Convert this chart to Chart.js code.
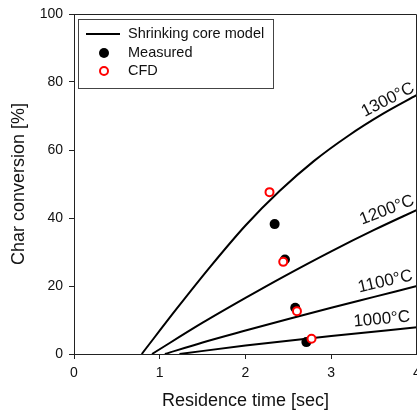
<!DOCTYPE html>
<html>
<head>
<meta charset="utf-8">
<script src="https://cdn.jsdelivr.net/npm/chart.js@4"></script>
<style>
  body { margin: 0; background: #fff; }
  canvas { display: block; }
</style>
</head>
<body>
<canvas id="myChart" width="417" height="412"></canvas>
<script>
// shrinking core model curves
const time1300 = [0.79, 1.2, 1.6, 2.0, 2.4, 2.8, 3.2, 3.6, 4.0];
const conv1300 = [0, 13.4, 26, 37.8, 48, 56.8, 64.2, 70.6, 76.2];
const time1200 = [0.91, 1.5, 2.0, 2.44, 3.0, 3.5, 4.0];
const conv1200 = [0, 9.2, 16.5, 22.7, 30.2, 36.5, 42.4];
const time1100 = [1.06, 1.5, 2.0, 2.5, 3.0, 3.5, 4.0];
const conv1100 = [0, 3.4, 6.9, 10.3, 13.6, 16.8, 20.0];
const time1000 = [1.23, 2.0, 3.0, 4.0];
const conv1000 = [0, 2.5, 5.3, 7.85];

const measuredTime = [2.34, 2.46, 2.58, 2.71];
const measuredConv = [38.2, 27.8, 13.6, 3.5];
const cfdTime = [2.28, 2.44, 2.60, 2.77];
const cfdConv = [47.6, 27.1, 12.6, 4.5];

const tempLabels = ['1300°C', '1200°C', '1100°C', '1000°C'];
const xTicks = [0, 1, 2, 3, 4];
const yTicks = [0, 20, 40, 60, 80, 100];

// where the temperature labels sit (data units) and their tilt
const labelSpots = [
  { x: 3.66, y: 74.7, angle: -27 },
  { x: 3.65, y: 42.3, angle: -21 },
  { x: 3.63, y: 21.3, angle: -13 },
  { x: 3.59, y: 10.2, angle: -5 }
];

const FONT = '"Liberation Sans", Arial, sans-serif';

function toPoints(xs, ys) {
  return xs.map((v, i) => ({ x: v, y: ys[i] }));
}

function curve(xs, ys) {
  return {
    label: 'Shrinking core model',
    data: toPoints(xs, ys),
    showLine: true,
    borderColor: '#000',
    borderWidth: 2,
    pointRadius: 0,
    cubicInterpolationMode: 'monotone',
    fill: false
  };
}

const extras = {
  id: 'extras',
  afterDraw(chart) {
    const { ctx, chartArea: a, scales: { x, y } } = chart;
    ctx.save();

    // box frame top and right
    ctx.strokeStyle = '#222';
    ctx.lineWidth = 1;
    ctx.beginPath();
    ctx.moveTo(a.left, a.top + 0.5);
    ctx.lineTo(a.right - 0.5, a.top + 0.5);
    ctx.lineTo(a.right - 0.5, a.bottom);
    ctx.stroke();

    // temperature labels
    ctx.fillStyle = '#111';
    ctx.font = '17px ' + FONT;
    ctx.textAlign = 'center';
    ctx.textBaseline = 'middle';
    tempLabels.forEach((t, i) => {
      const s = labelSpots[i];
      ctx.save();
      ctx.translate(x.getPixelForValue(s.x), y.getPixelForValue(s.y));
      ctx.rotate(s.angle * Math.PI / 180);
      ctx.fillText(t, 0, 0);
      ctx.restore();
    });

    // legend
    ctx.strokeStyle = '#444';
    ctx.lineWidth = 1;
    ctx.strokeRect(78.5, 19.5, 195, 69);
    ctx.font = '14.5px ' + FONT;
    ctx.textAlign = 'left';
    ctx.fillStyle = '#111';

    ctx.strokeStyle = '#000';
    ctx.lineWidth = 2;
    ctx.beginPath();
    ctx.moveTo(86, 34);
    ctx.lineTo(120, 34);
    ctx.stroke();
    ctx.fillText('Shrinking core model', 128, 34);

    ctx.fillStyle = '#000';
    ctx.beginPath();
    ctx.arc(104, 53, 5, 0, Math.PI * 2);
    ctx.fill();
    ctx.fillStyle = '#111';
    ctx.fillText('Measured', 128, 53);

    ctx.strokeStyle = '#ff0000';
    ctx.beginPath();
    ctx.arc(104, 71, 4, 0, Math.PI * 2);
    ctx.stroke();
    ctx.fillText('CFD', 128, 71);

    ctx.restore();
  }
};

const ctx = document.getElementById('myChart');

const myChart = new Chart(ctx, {
  type: 'scatter',
  data: {
    datasets: [
      {
        label: 'CFD',
        data: toPoints(cfdTime, cfdConv),
        pointRadius: 4,
        pointBackgroundColor: '#fff',
        pointBorderColor: '#ff0000',
        pointBorderWidth: 2
      },
      {
        label: 'Measured',
        data: toPoints(measuredTime, measuredConv),
        pointRadius: 5,
        pointBackgroundColor: '#000',
        pointBorderColor: '#000',
        pointBorderWidth: 0
      },
      curve(time1300, conv1300),
      curve(time1200, conv1200),
      curve(time1100, conv1100),
      curve(time1000, conv1000)
    ]
  },
  options: {
    responsive: false,
    animation: false,
    devicePixelRatio: 1,
    layout: { autoPadding: false, padding: { top: 14, right: 0, bottom: 0, left: 0 } },
    plugins: {
      legend: { display: false },
      tooltip: { enabled: false }
    },
    scales: {
      x: {
        type: 'linear',
        min: xTicks[0],
        max: xTicks[xTicks.length - 1],
        afterBuildTicks: s => { s.ticks = xTicks.map(v => ({ value: v })); },
        afterFit: s => { s.height = 58; s.paddingLeft = 0; s.paddingRight = 0; },
        ticks: { color: '#111', padding: 6, font: { family: FONT, size: 14 } },
        grid: { drawOnChartArea: false, color: '#222', tickLength: 5 },
        border: { color: '#222', width: 1 },
        title: {
          display: true,
          text: 'Residence time [sec]',
          color: '#111',
          padding: { top: 0, bottom: 0 },
          font: { family: FONT, size: 18 }
        }
      },
      y: {
        type: 'linear',
        min: yTicks[0],
        max: yTicks[yTicks.length - 1],
        afterBuildTicks: s => { s.ticks = yTicks.map(v => ({ value: v })); },
        afterFit: s => { s.width = 74; s.paddingTop = 0; s.paddingBottom = 0; },
        ticks: { color: '#111', padding: 6, font: { family: FONT, size: 14 } },
        grid: { drawOnChartArea: false, color: '#222', tickLength: 5 },
        border: { color: '#222', width: 1 },
        title: {
          display: true,
          text: 'Char conversion [%]',
          color: '#111',
          padding: { top: 8, bottom: 0 },
          font: { family: FONT, size: 18 }
        }
      }
    }
  },
  plugins: [extras]
});
</script>
</body>
</html>
